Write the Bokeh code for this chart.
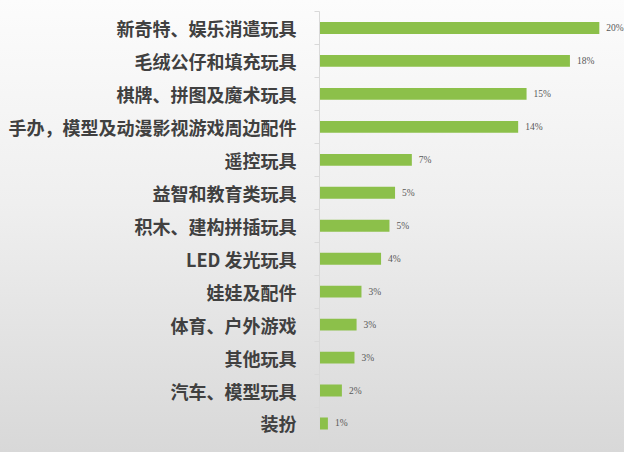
from bokeh.plotting import figure
from bokeh.models import Range1d, FixedTicker, ColumnDataSource, LabelSet
from bokeh.embed import file_html
from bokeh.resources import INLINE

categories = ["新奇特、娱乐消遣玩具", "毛绒公仔和填充玩具", "棋牌、拼图及魔术玩具",
              "手办，模型及动漫影视游戏周边配件", "遥控玩具", "益智和教育类玩具",
              "积木、建构拼插玩具", "LED 发光玩具", "娃娃及配件", "体育、户外游戏",
              "其他玩具", "汽车、模型玩具", "装扮"]
values = [20.0, 17.9, 14.8, 14.2, 6.6, 5.4, 5.0, 4.4, 3.0, 2.65, 2.5, 1.6, 0.6]
value_labels = ["20%", "18%", "15%", "14%", "7%", "5%", "5%", "4%", "3%", "3%", "3%", "2%", "1%"]

n = len(categories)
pos = list(range(n))

src = ColumnDataSource(dict(y=pos, v=values, lab=value_labels, cat=categories))

p = figure(width=624, height=452, output_backend="svg", toolbar_location=None,
           x_range=Range1d(0, 21.8), y_range=Range1d(n - 0.12, -0.5),
           min_border_left=319, min_border_right=0, min_border_top=11, min_border_bottom=0)

p.styles = {"background": "linear-gradient(180deg, #fcfcfc 0%, #efefef 45%, #d8d8d8 100%)"}
p.background_fill_color = None
p.border_fill_color = None
p.outline_line_color = None

p.hbar(y="y", left=0, right="v", height=0.36, source=src,
       fill_color="#8cc04a", line_color=None)

labels = LabelSet(x="v", y="y", text="lab", source=src, x_offset=7,
                  text_font="Liberation Sans", text_font_size="9.5px", text_color="#595959",
                  text_baseline="middle", text_align="left")
p.add_layout(labels)

p.xaxis.visible = False
p.xgrid.visible = False
p.ygrid.visible = False

yax = p.yaxis[0]
yax.ticker = FixedTicker(ticks=pos, minor_ticks=[i - 0.5 for i in range(n + 1)])
yax.major_label_overrides = {i: c for i, c in zip(pos, categories)}
yax.major_tick_line_color = None
yax.major_tick_out = 0
yax.major_tick_in = 0
yax.minor_tick_out = 5
yax.minor_tick_in = 0
yax.minor_tick_line_color = "#d9d9d9"
yax.axis_line_color = "#d9d9d9"
yax.major_label_standoff = 18
yax.major_label_text_font = "Noto Sans CJK SC"
yax.major_label_text_font_size = "18px"
yax.major_label_text_font_style = "bold"
yax.major_label_text_color = "#404040"

open("out.html", "w").write(file_html(p, INLINE))
